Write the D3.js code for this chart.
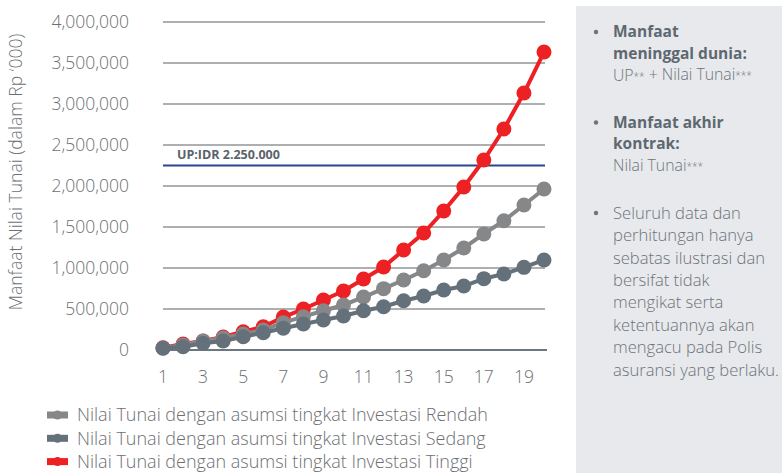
<!DOCTYPE html>
<html>
<head>
<meta charset="utf-8">
<script src="https://cdn.jsdelivr.net/npm/d3@7"></script>
<style>
  html, body { margin: 0; padding: 0; background: #ffffff; }
  svg { display: block; }
  text { font-family: "Open Sans", "Noto Sans", sans-serif; }
</style>
</head>
<body>
<svg id="chart" width="782" height="473"></svg>
<script>
// ---- data ----
const years = [1,2,3,4,5,6,7,8,9,10,11,12,13,14,15,16,17,18,19,20];
const xTickLabels = [1,3,5,7,9,11,13,15,17,19];
const yTickValues = [0,500000,1000000,1500000,2000000,2500000,3000000,3500000,4000000];
const seriesNames = [
  "Nilai Tunai dengan asumsi tingkat Investasi Rendah",
  "Nilai Tunai dengan asumsi tingkat Investasi Sedang",
  "Nilai Tunai dengan asumsi tingkat Investasi Tinggi"
];
const rendah = [24000,61000,110000,146000,195000,244000,333000,406000,479000,549000,646000,748000,854000,967000,1098000,1244000,1415000,1577000,1768000,1963000];
const sedang = [21000,40000,82000,110000,162000,211000,265000,317000,366000,415000,479000,528000,601000,659000,732000,780000,870000,927000,1008000,1098000];
const tinggi = [28000,73000,110000,159000,223000,284000,402000,500000,610000,720000,866000,1012000,1220000,1427000,1695000,1988000,2317000,2695000,3134000,3634000];
const upValue = 2250000;
const upLabel = "UP:IDR 2.250.000";
const yTitle = "Manfaat Nilai Tunai (dalam Rp \u2018000)";
const sideNotes = [
  {bold: ["Manfaat", "meninggal dunia:"], normal: [["UP", "**", " + Nilai Tunai", "***"]]},
  {bold: ["Manfaat akhir", "kontrak:"], normal: [["Nilai Tunai", "***"]]},
  {bold: [], normal: [["Seluruh data dan"], ["perhitungan hanya"], ["sebatas ilustrasi dan"], ["bersifat tidak"], ["mengikat serta"], ["ketentuannya akan"], ["mengacu pada Polis"], ["asuransi yang berlaku."]]}
];

// ---- styles ----
const colors = {rendah: "#868789", sedang: "#65717a", tinggi: "#ed2024"};
const textColor = "#6d6f72";

const svg = d3.select("#chart");

const x = d3.scaleLinear().domain([1, 20]).range([163, 544]);
const y = d3.scaleLinear().domain([0, 4000000]).range([350, 22]);

// side panel
svg.append("rect").attr("x", 576).attr("y", 6).attr("width", 206).attr("height", 467).attr("fill", "#e7e9ec");

// grid lines
svg.append("g").selectAll("line").data(yTickValues.filter(d => d > 0)).join("line")
  .attr("x1", 163).attr("x2", 545)
  .attr("y1", d => y(d)).attr("y2", d => y(d))
  .attr("stroke", "#aeafb1").attr("stroke-width", 2);

// baseline
svg.append("line").attr("x1", 158).attr("x2", 547).attr("y1", y(0)).attr("y2", y(0))
  .attr("stroke", "#6d7780").attr("stroke-width", 2);

// y tick labels
svg.append("g").selectAll("text").data(yTickValues).join("text")
  .attr("x", 129).attr("y", d => y(d)).attr("dy", "0.35em")
  .attr("text-anchor", "end")
  .attr("font-size", 17.5).attr("font-weight", 300).attr("fill", textColor)
  .text(d => d3.format(",")(d));

// x tick labels
svg.append("g").selectAll("text").data(xTickLabels).join("text")
  .attr("x", d => x(d)).attr("y", 377).attr("dy", "0.35em")
  .attr("text-anchor", "middle")
  .attr("font-size", 17.5).attr("font-weight", 300).attr("fill", textColor)
  .text(d => d);

// y title
svg.append("text")
  .attr("transform", "translate(16,172) rotate(-90)")
  .attr("text-anchor", "middle").attr("dy", "0.35em")
  .attr("font-size", 17.6).attr("font-weight", 300).attr("fill", textColor)
  .text(yTitle);

// UP line
svg.append("line").attr("x1", 163).attr("x2", 545).attr("y1", y(upValue)).attr("y2", y(upValue))
  .attr("stroke", "#2a4591").attr("stroke-width", 2);
svg.append("text").attr("x", 177).attr("y", y(upValue) - 7)
  .attr("font-size", 12.5).attr("font-weight", 700).attr("fill", "#59636b")
  .text(upLabel);

// series
const series = [
  {values: tinggi, color: colors.tinggi},
  {values: rendah, color: colors.rendah},
  {values: sedang, color: colors.sedang}
];
const line = d3.line().x((d, i) => x(years[i])).y(d => y(d));
series.forEach(s => {
  const g = svg.append("g");
  g.append("path").datum(s.values).attr("d", line)
    .attr("fill", "none").attr("stroke", s.color).attr("stroke-width", 4);
  g.selectAll("circle").data(s.values).join("circle")
    .attr("cx", (d, i) => x(years[i])).attr("cy", d => y(d)).attr("r", 7.5)
    .attr("fill", s.color);
});

// legend
const legendColors = [colors.rendah, colors.sedang, colors.tinggi];
const lg = svg.append("g");
seriesNames.forEach((name, i) => {
  const cy = 415 + i * 23.3;
  lg.append("rect").attr("x", 47).attr("y", cy - 3.5).attr("width", 21).attr("height", 7).attr("fill", legendColors[i]);
  lg.append("circle").attr("cx", 57.5).attr("cy", cy).attr("r", 4.5).attr("fill", legendColors[i]);
  lg.append("text").attr("x", 77).attr("y", cy).attr("dy", "0.35em")
    .attr("font-size", 18).attr("font-weight", 300).attr("fill", textColor)
    .text(name);
});

// side notes
const notes = svg.append("g");
let ly = 32;
sideNotes.forEach((n, k) => {
  notes.append("circle").attr("cx", 596).attr("cy", ly).attr("r", 2.2).attr("fill", "#6d737a");
  n.bold.forEach(t => {
    notes.append("text").attr("x", 613).attr("y", ly).attr("dy", "0.35em")
      .attr("font-size", 15.5).attr("font-weight", 700).attr("fill", "#5e6870").text(t);
    ly += 21.5;
  });
  n.normal.forEach(parts => {
    const t = notes.append("text").attr("x", 613).attr("y", ly).attr("dy", "0.35em")
      .attr("font-size", n.bold.length ? 15.8 : 16.6).attr("font-weight", 300).attr("fill", "#6d7379");
    parts.forEach(p => {
      if (/^\*+$/.test(p)) {
        t.append("tspan").attr("font-size", 10).attr("dy", "-0.1em").text(p);
        t.append("tspan").attr("dy", "0.1em").text("");
      } else {
        t.append("tspan").text(p);
      }
    });
    ly += (n.bold.length ? 21.5 : 22.4);
  });
  ly += 26;
});
</script>
</body>
</html>
